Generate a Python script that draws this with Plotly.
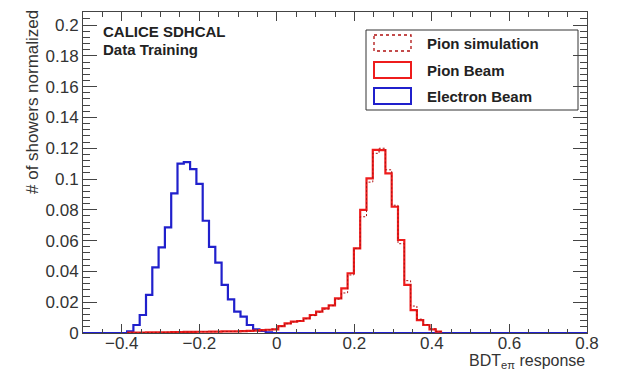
import plotly.graph_objects as go

# ---------------- data ----------------
x_min, x_max, n_bins = -0.5, 0.8, 80

# Electron beam (blue), bins 0..79 of width 0.01625
electron_beam = [0]*7 + [
    0.0010, 0.0052, 0.0117, 0.0247, 0.0426, 0.0556, 0.0686, 0.0907, 0.1100, 0.1110,
    0.1065, 0.0968, 0.0729, 0.0560, 0.0457, 0.0312, 0.0219, 0.0139, 0.0106, 0.0052,
    0.0024, 0.0013, 0.0004] + [0]*50

# Pion beam (red solid)
pion_beam = [0]*7 + [
    0.0002, 0.0003, 0.0003, 0.0004, 0.0004, 0.0005, 0.0005, 0.0006, 0.0006, 0.0007,
    0.0007, 0.0008, 0.0008, 0.0009, 0.0009, 0.0010, 0.0010, 0.0011, 0.0012, 0.0014,
    0.0016, 0.0019, 0.0021,
    0.0024, 0.0045, 0.0063, 0.0074, 0.0078, 0.0095, 0.0117, 0.0139, 0.0160, 0.0180,
    0.0225, 0.0290, 0.0388, 0.0550, 0.0800, 0.1004, 0.1190, 0.1188, 0.1037, 0.0820,
    0.0604, 0.0312, 0.0149, 0.0084, 0.0052, 0.0024, 0.0009] + [0]*23

# Pion simulation (red dashed)
pion_sim = [0]*7 + [
    0.0002, 0.0002, 0.0003, 0.0003, 0.0004, 0.0004, 0.0005, 0.0005, 0.0006, 0.0006,
    0.0007, 0.0007, 0.0008, 0.0008, 0.0009, 0.0010, 0.0010, 0.0011, 0.0012, 0.0013,
    0.0015, 0.0018, 0.0020,
    0.0025, 0.0043, 0.0060, 0.0072, 0.0080, 0.0093, 0.0113, 0.0135, 0.0155, 0.0178,
    0.0220, 0.0260, 0.0377, 0.0550, 0.0755, 0.0980, 0.1167, 0.1200, 0.1060, 0.0830,
    0.0580, 0.0340, 0.0175, 0.0090, 0.0055, 0.0027, 0.0010] + [0]*23

# ---------------- helpers ----------------
width = (x_max - x_min) / n_bins
edges = [x_min + i * width for i in range(n_bins + 1)]


def step_xy(vals, trim=True):
    lo, hi = 0, len(vals)
    if trim:
        nz = [i for i, v in enumerate(vals) if v > 0]
        lo, hi = nz[0], nz[-1] + 1
    xs = edges[lo:hi + 1]
    ys = list(vals[lo:hi]) + [vals[hi - 1]]
    return xs, ys


FONT = "Liberation Sans, Arial, Helvetica, sans-serif"
RED = "#ee1c1c"
DRED = "#b01010"
BLUE = "#2020cc"

fig = go.Figure()

xe, ye = step_xy(electron_beam, trim=False)
fig.add_trace(go.Scatter(x=xe, y=ye, mode="lines", line=dict(shape="hv", color=BLUE, width=2.2),
                         name="Electron Beam", showlegend=False))
xp, yp = step_xy(pion_beam)
fig.add_trace(go.Scatter(x=xp, y=yp, mode="lines", line=dict(shape="hv", color=RED, width=2.2),
                         name="Pion Beam", showlegend=False))
xs, ys = step_xy(pion_sim)
fig.add_trace(go.Scatter(x=xs, y=ys, mode="lines", line=dict(shape="hv", color=DRED, width=1, dash="2px,2px"),
                         name="Pion simulation", showlegend=False))

# ---------------- layout ----------------
W, H = 621, 371
ml, mr, mt, mb = 83, 34, 12, 38
pw, ph = W - ml - mr, H - mt - mb


def px(xp_):
    return (xp_ - ml) / pw


def py(yp_):
    return (H - mb - yp_) / ph


AX = "#444444"
fig.update_layout(
    width=W, height=H,
    margin=dict(l=ml, r=mr, t=mt, b=mb),
    paper_bgcolor="white", plot_bgcolor="white",
    showlegend=False,
    font=dict(family=FONT, color="#333333"),
    xaxis=dict(range=[x_min, x_max], tick0=0, dtick=0.2, ticks="inside", ticklen=9, tickwidth=1,
               tickcolor=AX, showline=True, linecolor=AX, linewidth=1, mirror="allticks",
               showgrid=False, zeroline=False, tickfont=dict(size=17, color="#333333"),
               ticklabelstandoff=-5,
               minor=dict(dtick=0.05, tick0=0, ticks="inside", ticklen=4.5, tickcolor=AX, showgrid=False)),
    yaxis=dict(range=[0, 0.2085], tick0=0, dtick=0.02, ticks="inside", ticklen=14, tickwidth=1,
               tickcolor=AX, showline=True, linecolor=AX, linewidth=1, mirror="allticks",
               showgrid=False, zeroline=False, tickfont=dict(size=17, color="#333333"),
               minor=dict(dtick=0.004, tick0=0, ticks="inside", ticklen=7, tickcolor=AX, showgrid=False)),
)

ann = []
ann.append(dict(text="BDT<sub>eπ</sub> response", xref="paper", yref="paper", x=1.0, y=py(362),
                xanchor="right", yanchor="middle", showarrow=False, font=dict(size=16, color="#333333")))
ann.append(dict(text="# of showers normalized", xref="paper", yref="paper", x=px(32), y=py(8),
                xanchor="center", yanchor="top", textangle=-90, showarrow=False,
                font=dict(size=17, color="#333333")))
ann.append(dict(text="<b>CALICE SDHCAL</b>", xref="paper", yref="paper", x=px(101), y=py(31),
                xanchor="left", yanchor="middle", showarrow=False, font=dict(size=15, color="#222222")))
ann.append(dict(text="<b>Data Training</b>", xref="paper", yref="paper", x=px(101), y=py(49),
                xanchor="left", yanchor="middle", showarrow=False, font=dict(size=15, color="#222222")))

shapes = []
shapes.append(dict(type="rect", xref="paper", yref="paper", x0=px(366), x1=px(578), y0=py(30), y1=py(110),
                   line=dict(color="#333333", width=1), fillcolor="white", layer="below"))
entries = [("Pion simulation", dict(color=DRED, width=1.3, dash="dot"), 43),
           ("Pion Beam", dict(color=RED, width=2), 70),
           ("Electron Beam", dict(color=BLUE, width=2), 96)]
for label, ln, yc in entries:
    shapes.append(dict(type="rect", xref="paper", yref="paper", x0=px(374), x1=px(411),
                       y0=py(yc - 8), y1=py(yc + 8), line=ln))
    ann.append(dict(text="<b>" + label + "</b>", xref="paper", yref="paper", x=px(425), y=py(yc),
                    xanchor="left", yanchor="middle", showarrow=False, font=dict(size=15, color="#222222")))

fig.update_layout(annotations=ann, shapes=shapes)
fig.write_html("out.html")
